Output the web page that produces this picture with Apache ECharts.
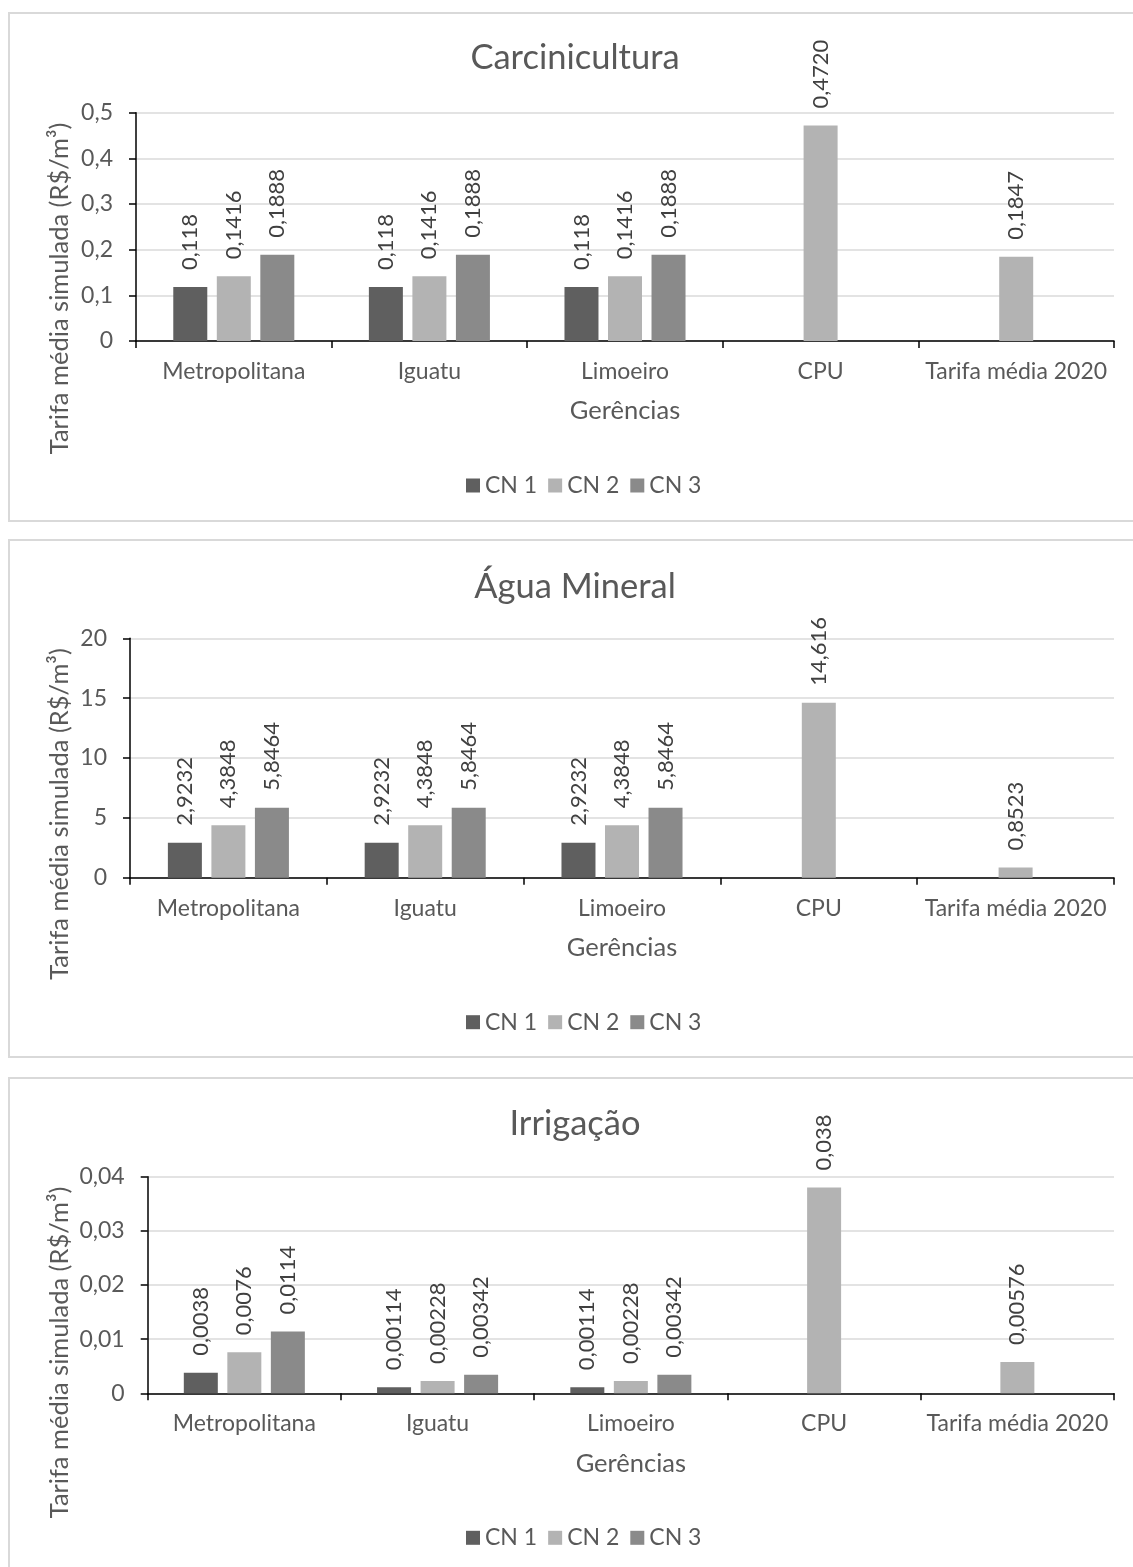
<!DOCTYPE html>
<html>
<head>
<meta charset="utf-8">
<script src="https://cdn.jsdelivr.net/npm/echarts@6/dist/echarts.min.js"></script>
<style>
  html, body { margin: 0; padding: 0; background: #ffffff; }
  #chart { width: 1133px; height: 1567px; }
</style>
</head>
<body>
<div id="chart"></div>
<script>
// Management units (x categories) and scenario names
const categories = ['Metropolitana', 'Iguatu', 'Limoeiro', 'CPU', 'Tarifa média 2020'];
const scenarioNames = ['CN 1', 'CN 2', 'CN 3'];

// Carcinicultura (R$/m³) — values kept as written so labels keep their digits
const carcCN1 = ['0.118', '0.118', '0.118', null, null];
const carcCN2 = ['0.1416', '0.1416', '0.1416', '0.4720', '0.1847'];
const carcCN3 = ['0.1888', '0.1888', '0.1888', null, null];
const carcTicks = [0, 0.1, 0.2, 0.3, 0.4, 0.5];

// Água Mineral (R$/m³)
const aguaCN1 = ['2.9232', '2.9232', '2.9232', null, null];
const aguaCN2 = ['4.3848', '4.3848', '4.3848', '14.616', '0.8523'];
const aguaCN3 = ['5.8464', '5.8464', '5.8464', null, null];
const aguaTicks = [0, 5, 10, 15, 20];

// Irrigação (R$/m³)
const irriCN1 = ['0.0038', '0.00114', '0.00114', null, null];
const irriCN2 = ['0.0076', '0.00228', '0.00228', '0.038', '0.00576'];
const irriCN3 = ['0.0114', '0.00342', '0.00342', null, null];
const irriTicks = [0, 0.01, 0.02, 0.03, 0.04];

const panels = [
  { title: 'Carcinicultura', data: [carcCN1, carcCN2, carcCN3], ticks: carcTicks,
    box: { y: 13, h: 508 }, grid: { left: 136, top: 112.7, height: 228.3 }, titleTop: 40 },
  { title: 'Água Mineral', data: [aguaCN1, aguaCN2, aguaCN3], ticks: aguaTicks,
    box: { y: 540, h: 517 }, grid: { left: 130, top: 638.3, height: 239.4 }, titleTop: 569 },
  { title: 'Irrigação', data: [irriCN1, irriCN2, irriCN3], ticks: irriTicks,
    box: { y: 1078, h: 495 }, grid: { left: 147.7, top: 1176.7, height: 216.6 }, titleTop: 1106 }
];

const FONT = 'Lato';
const colors = ['#5f5f5f', '#b3b3b3', '#8a8a8a'];
const textGray = '#595959';
const yAxisTitle = 'Tarifa média simulada (R$/m³)';
const xAxisTitle = 'Gerências';
const gridRight = 19;
const LABEL_SIZE = 23;   // tick, category, legend text
const AXIS_TITLE_SIZE = 25.5;
const TITLE_SIZE = 34.5;
const TITLE_CENTER_X = 575;

function toComma(s) { return String(s).replace('.', ','); }
function tickFmt(v) { return v === 0 ? '0' : String(Math.round(v * 1e6) / 1e6).replace('.', ','); }

// text measurement for centring the titles and placing the vertical axis titles
const ctx = document.createElement('canvas').getContext('2d');
function textWidth(str, size) { ctx.font = size + 'px ' + FONT; return ctx.measureText(str).width; }
const yTitleLen = textWidth(yAxisTitle, AXIS_TITLE_SIZE);

const option = {
  animation: false,
  backgroundColor: '#ffffff',
  textStyle: { fontFamily: FONT },
  title: [], legend: [], grid: [], xAxis: [], yAxis: [], series: [],
  graphic: []
};

panels.forEach((p, i) => {
  const ticks = p.ticks;
  const step = ticks[1] - ticks[0];
  option.graphic.push({
    type: 'rect', silent: true, z: -10,
    shape: { x: 9, y: p.box.y, width: 1140, height: p.box.h },
    style: { fill: 'none', stroke: '#d9d9d9', lineWidth: 2 }
  });
  // vertical axis title, starting just below the top gridline
  option.graphic.push({
    type: 'text', silent: true,
    x: 60, y: p.grid.top + 10 + yTitleLen / 2, rotation: Math.PI / 2,
    style: {
      text: yAxisTitle, fill: textGray, align: 'center', verticalAlign: 'middle',
      font: AXIS_TITLE_SIZE + 'px ' + FONT
    }
  });
  option.title.push({
    text: p.title, left: TITLE_CENTER_X - textWidth(p.title, TITLE_SIZE) / 2, top: p.titleTop, padding: 0,
    textStyle: { fontFamily: FONT, fontSize: TITLE_SIZE, fontWeight: 'normal', color: textGray }
  });
  const gBottom = p.grid.top + p.grid.height;
  option.legend.push({
    data: scenarioNames.map(n => ({ name: n })),
    left: 466, top: gBottom + 133, padding: 0,
    itemWidth: 14, itemHeight: 14, itemGap: 11, icon: 'rect',
    textStyle: { fontFamily: FONT, fontSize: LABEL_SIZE, color: textGray }
  });
  option.grid.push({
    left: p.grid.left, top: p.grid.top, height: p.grid.height, right: gridRight,
    containLabel: false
  });
  option.xAxis.push({
    gridIndex: i, type: 'category', data: categories,
    name: xAxisTitle, nameLocation: 'middle', nameGap: 57,
    nameTextStyle: { fontFamily: FONT, fontSize: AXIS_TITLE_SIZE, color: textGray },
    axisLine: { show: true, lineStyle: { color: '#000', width: 1.5 } },
    axisTick: { show: true, length: 7, lineStyle: { color: '#000', width: 1.5 } },
    axisLabel: { interval: 0, margin: 19, fontFamily: FONT, fontSize: LABEL_SIZE, color: textGray },
    splitLine: { show: false }
  });
  option.yAxis.push({
    gridIndex: i, type: 'value', min: ticks[0], max: ticks[ticks.length - 1], interval: step,
    axisLine: { show: true, lineStyle: { color: '#000', width: 1.5 } },
    axisTick: { show: true, length: 7, lineStyle: { color: '#000', width: 1.5 } },
    axisLabel: { margin: 23, fontFamily: FONT, fontSize: LABEL_SIZE, color: textGray, formatter: tickFmt },
    splitLine: { show: true, lineStyle: { color: '#e3e3e3', width: 2 } }
  });
  p.data.forEach((arr, k) => {
    option.series.push({
      type: 'bar', name: scenarioNames[k], xAxisIndex: i, yAxisIndex: i,
      data: arr.map(s => (s === null ? null : Number(s))),
      barWidth: 34, barGap: '28%',
      itemStyle: { color: colors[k] },
      label: {
        show: true, position: 'top', rotate: 90, align: 'left', verticalAlign: 'middle',
        distance: 17, fontFamily: FONT, fontSize: 22, color: '#404040',
        formatter: prm => (arr[prm.dataIndex] === null ? '' : toComma(arr[prm.dataIndex]))
      }
    });
  });
});

const chart = echarts.init(document.getElementById('chart'), null, { renderer: 'canvas' });
chart.setOption(option);
</script>
</body>
</html>
